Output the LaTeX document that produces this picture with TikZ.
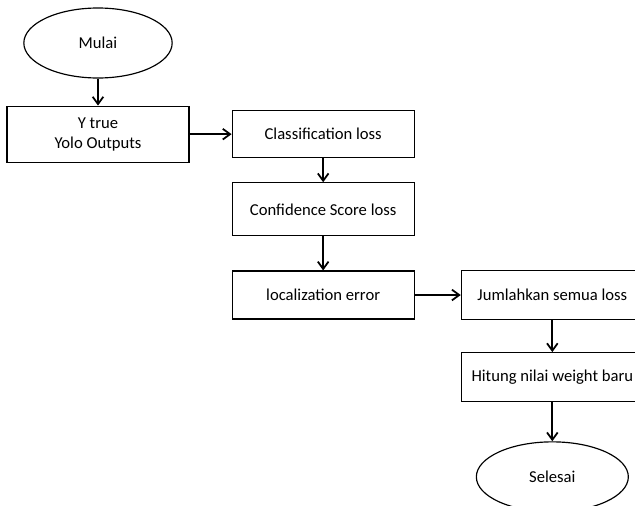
\documentclass[tikz,border=0pt]{standalone}
\usepackage{fontspec}
\setmainfont{Carlito}
\usetikzlibrary{arrows.meta, positioning, shapes.geometric}

\begin{document}
\begin{tikzpicture}[
    font=\fontsize{14.2}{17}\selectfont,
    terminal/.style={
        draw, ellipse, line width=1pt,
        minimum width=4.45cm,
        minimum height=2.1cm
    },
    proc/.style={
        draw, line width=1pt,
        align=center,
        minimum width=5.46cm,
        minimum height=1.44cm
    },
    arrow/.style={-{Straight Barb[length=2.2mm, width=3.2mm]}, line width=1.5pt}
]

% ===== PAGE =====
\useasboundingbox (0,0) rectangle (19.05,-15.15);
\clip (0,0) rectangle (19.05,-15.15);

% ===== LEFT COLUMN =====
\node[terminal] (mulai) at (2.94,-1.29) {Mulai};

\node[proc, minimum height=1.68cm, below=0.81cm of mulai] (input)
{Y true\\Yolo Outputs};

% ===== MIDDLE COLUMN =====
\node[proc, minimum height=1.41cm, right=1.26cm of input] (cls)
{Classification loss};

\node[proc, minimum height=1.59cm, below=0.72cm of cls] (conf)
{Confidence Score loss};

\node[proc, below=1.02cm of conf] (loc)
{localization error};

% ===== RIGHT COLUMN (cut off by the page edge) =====
\node[proc, minimum height=1.47cm, right=1.38cm of loc] (sum)
{Jumlahkan semua loss};

\node[proc, minimum height=1.47cm, below=0.96cm of sum] (upd)
{Hitung nilai weight baru};

\node[terminal, minimum width=4.56cm, below=1.17cm of upd] (selesai) {Selesai};

% ===== FLOW ARROWS =====
\draw[arrow] (mulai) -- (input);
\draw[arrow] (input) -- (cls);
\draw[arrow] (cls) -- (conf);
\draw[arrow] (conf) -- (loc);
\draw[arrow] (loc) -- (sum);
\draw[arrow] (sum) -- (upd);
\draw[arrow] (upd) -- (selesai);

\end{tikzpicture}
\end{document}
